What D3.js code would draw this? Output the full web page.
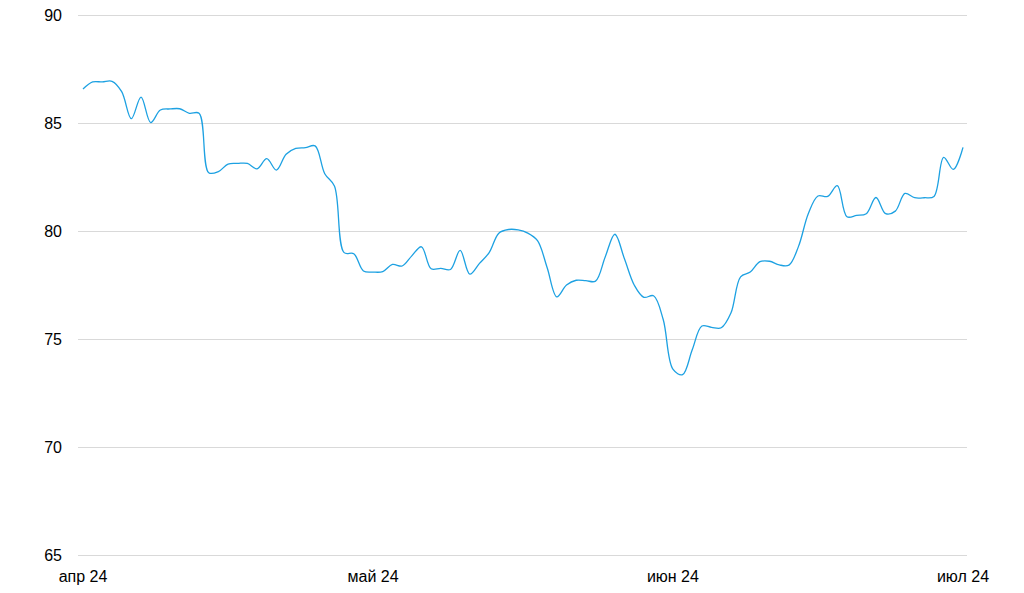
<html>
<head>
<meta charset="utf-8">
<script src="https://d3js.org/d3.v7.min.js"></script>
<style>
  body { margin: 0; background: #fff; }
  text { font-family: "Liberation Sans", Arial, sans-serif; }
</style>
</head>
<body>
<div id="chart"></div>
<script>
var width = 1024
var height = 593

// one value per calendar day, 1 Apr 2024 .. 1 Jul 2024
var startDate = new Date(2024, 3, 1)
var values = [
  86.57, 86.9, 86.9, 86.93, 86.45, 85.2, 86.2, 85.02, 85.6, 85.65,
  85.66, 85.45, 85.45, 82.7, 82.75, 83.1, 83.13, 83.13, 82.88, 83.35,
  82.82, 83.55, 83.82, 83.86, 83.94, 82.65, 82.08, 79.0, 78.95, 78.15,
  78.1, 78.12, 78.45, 78.38, 78.85, 79.27, 78.25, 78.27, 78.22, 79.1,
  78.0, 78.5, 79.0, 79.9, 80.07, 80.05, 79.9, 79.55, 78.3, 76.95,
  77.5, 77.72, 77.7, 77.68, 78.8, 79.85, 78.7, 77.5, 76.93, 77.0,
  75.9, 73.6, 73.35, 74.5, 75.6, 75.54, 75.52, 76.2, 77.88, 78.1,
  78.58, 78.6, 78.43, 78.42, 79.3, 80.8, 81.62, 81.6, 82.1, 80.66,
  80.72, 80.8, 81.55, 80.8, 80.92, 81.74, 81.54, 81.54, 81.6, 83.41,
  82.85, 83.87
]
var yTicks = [65, 70, 75, 80, 85, 90]
var xTickDates = [new Date(2024, 3, 1), new Date(2024, 4, 1), new Date(2024, 5, 1), new Date(2024, 6, 1)]
var xTickLabels = ['апр 24', 'май 24', 'июн 24', 'июл 24']

var data = values.map(function(v, i) {
  return { date: d3.timeDay.offset(startDate, i), value: v }
})

const svg = d3.select('#chart')
  .append('svg')
  .attr('width', width)
  .attr('height', height)

var x = d3.scaleTime()
  .domain([startDate, new Date(2024, 6, 1)])
  .range([83, 963])

var y = d3.scaleLinear()
  .domain([65, 90])
  .range([555, 15])

// grid lines
svg.append('g')
  .selectAll('line')
  .data(yTicks)
  .enter()
  .append('line')
  .attr('x1', 78)
  .attr('x2', 967)
  .attr('y1', d => y(d) + 0.5)
  .attr('y2', d => y(d) + 0.5)
  .style('stroke', '#d9d9d9')
  .style('stroke-width', 1)

// y labels
svg.append('g')
  .selectAll('text')
  .data(yTicks)
  .enter()
  .append('text')
  .attr('x', 62)
  .attr('y', d => y(d))
  .attr('dy', '0.35em')
  .attr('text-anchor', 'end')
  .style('font-size', '16px')
  .style('fill', '#000')
  .text(d => d)

// x labels
svg.append('g')
  .selectAll('text')
  .data(xTickDates)
  .enter()
  .append('text')
  .attr('x', d => x(d))
  .attr('y', 582)
  .attr('text-anchor', 'middle')
  .style('font-size', '16px')
  .style('fill', '#000')
  .text((d, i) => xTickLabels[i])

var line = d3.line()
  .x(d => x(d.date))
  .y(d => y(d.value))
  .curve(d3.curveCatmullRom.alpha(0.5))

svg.append('path')
  .datum(data)
  .attr('d', line)
  .style('fill', 'none')
  .style('stroke', '#1da1e2')
  .style('stroke-width', 1.3)
</script>
</body>
</html>
